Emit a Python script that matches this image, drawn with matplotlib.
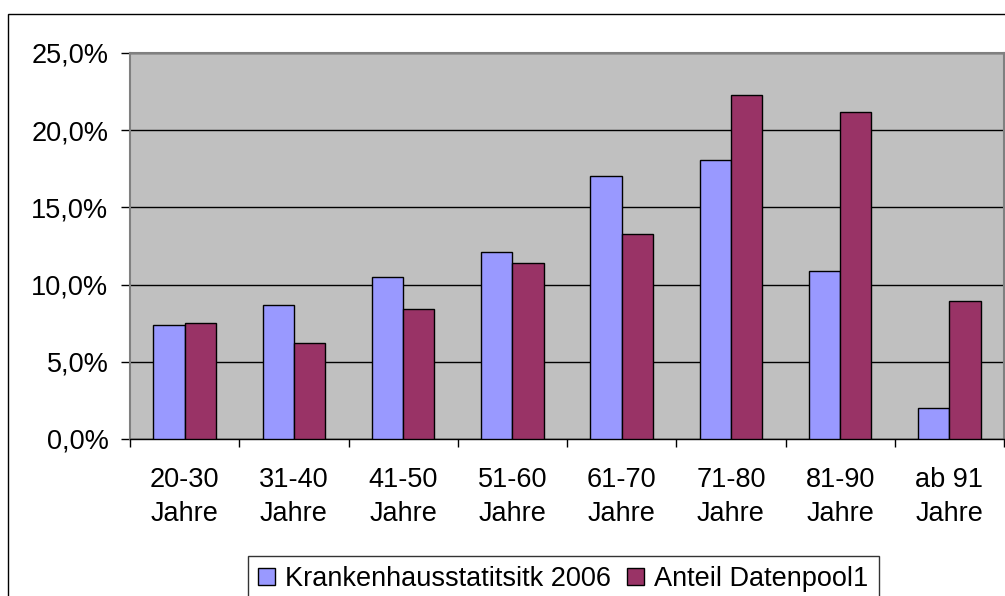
import matplotlib
matplotlib.use("Agg")
import matplotlib.pyplot as plt
import numpy as np
from matplotlib.patches import Rectangle, Patch
from matplotlib.ticker import FuncFormatter, MultipleLocator

plt.rcParams["font.family"] = ["Liberation Sans", "DejaVu Sans"]

categories = ["20-30\nJahre", "31-40\nJahre", "41-50\nJahre", "51-60\nJahre",
              "61-70\nJahre", "71-80\nJahre", "81-90\nJahre", "ab 91\nJahre"]
krankenhaus = [7.4, 8.7, 10.5, 12.1, 17.05, 18.1, 10.9, 2.0]
datenpool = [7.5, 6.2, 8.4, 11.4, 13.25, 22.3, 21.2, 8.95]
series_names = ["Krankenhausstatitsitk 2006", "Anteil Datenpool1"]
colors = ["#9999FF", "#993366"]

FS = 19.5
W, H = 1005, 596
fig = plt.figure(figsize=(W / 100, H / 100), dpi=100)
fig.patch.set_facecolor("white")

# outer chart frame (runs off the right and bottom edge)
fig.patches.append(Rectangle((8 / W, -0.1), 1.2, 1 - 14 / H + 0.1,
                             transform=fig.transFigure, fill=False,
                             edgecolor="black", linewidth=1.0))

ax = fig.add_axes([130 / W, 1 - 439 / H, 874 / W, 386 / H])
ax.set_facecolor("#C0C0C0")

x = np.arange(len(categories))
bw = 1 / 3.5
ax.bar(x - bw / 2, krankenhaus, bw, color=colors[0], edgecolor="black", linewidth=1.0, zorder=3)
ax.bar(x + bw / 2, datenpool, bw, color=colors[1], edgecolor="black", linewidth=1.0, zorder=3)

ax.set_xlim(-0.5, len(categories) - 0.5)
ax.set_ylim(0, 25)
ax.yaxis.set_major_locator(MultipleLocator(5))
ax.yaxis.set_major_formatter(FuncFormatter(lambda v, p: f"{v:.1f}%".replace(".", ",")))
ax.grid(axis="y", color="black", linewidth=1.0, zorder=1)
ax.set_axisbelow(True)

ax.set_xticks(x)
ax.set_xticklabels(categories, fontsize=FS, linespacing=1.4)
ax.set_xticks(np.arange(len(categories) + 1) - 0.5, minor=True)
ax.tick_params(axis="x", which="major", length=0, pad=20)
ax.tick_params(axis="x", which="minor", length=6, width=1.0, color="black")
ax.tick_params(axis="y", labelsize=FS, length=6.5, width=1.0, pad=9)

for side in ["top", "right", "left"]:
    ax.spines[side].set_color("#808080")
    ax.spines[side].set_linewidth(1.5)
ax.spines["bottom"].set_color("black")
ax.spines["bottom"].set_linewidth(1.0)

handles = [Patch(facecolor=c, edgecolor="black", linewidth=1.0) for c in colors]
leg = fig.legend(handles, series_names, loc="upper left",
                 bbox_to_anchor=(248 / W, 1 - 556 / H), ncol=2, fontsize=FS,
                 frameon=True, fancybox=False, edgecolor="black",
                 handlelength=0.63, handleheight=0.63, handletextpad=0.37,
                 columnspacing=0.6, borderpad=0.37, borderaxespad=0)
leg.get_frame().set_linewidth(1.0)

fig.savefig("out.png", dpi=100, facecolor="white")
